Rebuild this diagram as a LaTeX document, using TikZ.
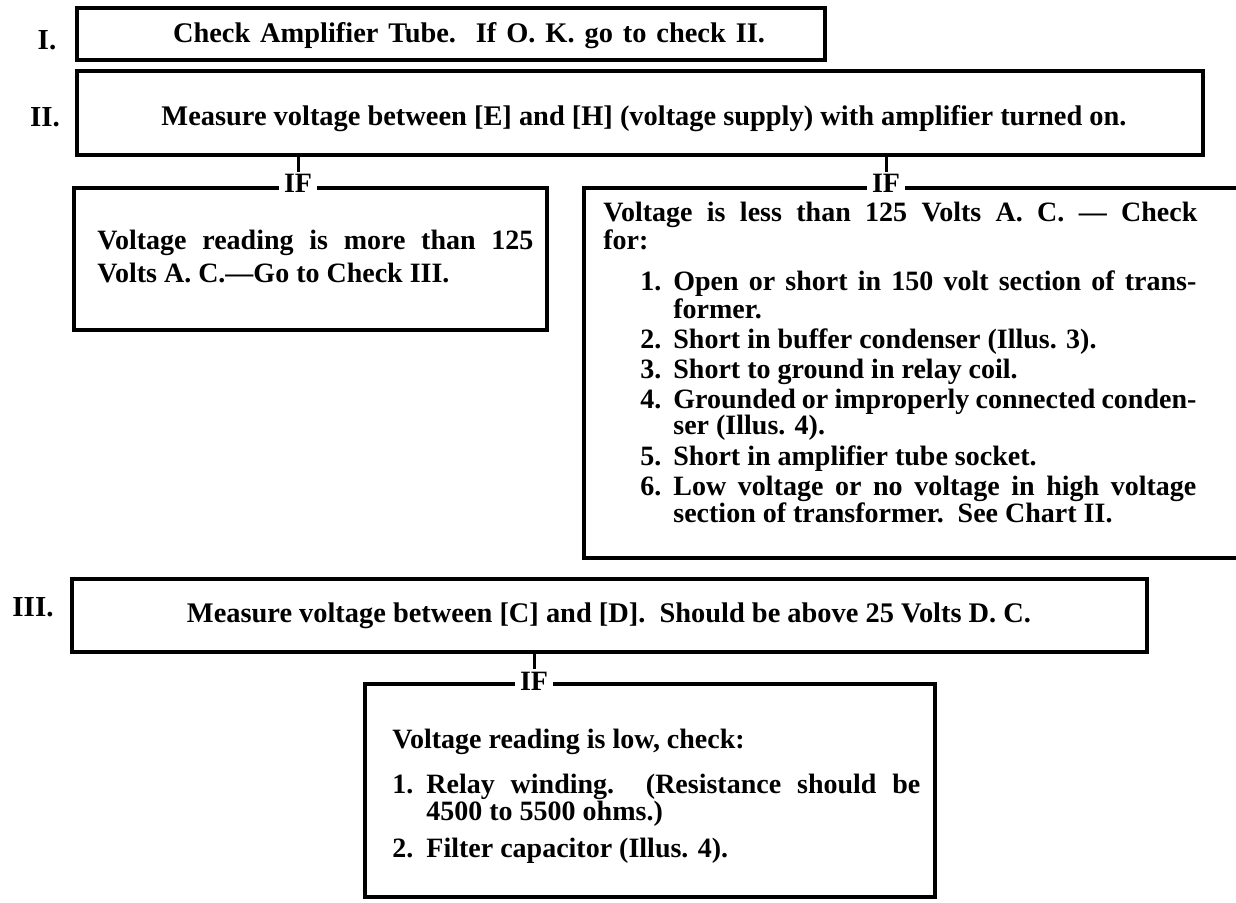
\documentclass[tikz,border=0pt]{standalone}
\usepackage{fontspec}
\setmainfont{Liberation Serif}
\begin{document}
\begin{tikzpicture}[x=0.5pt,y=-0.5pt,
  frame/.style={draw, line width=1.8pt, line join=miter},
  head/.style={font=\bfseries\fontsize{14.2}{14.5}\selectfont, inner sep=0pt},
  txt/.style={font=\bfseries\fontsize{14}{13.5}\selectfont, inner sep=0pt, align=left},
  lbl/.style={font=\bfseries\fontsize{14.5}{14.5}\selectfont, inner sep=0pt},
  iflbl/.style={font=\bfseries\fontsize{14}{14}\selectfont, fill=white, inner xsep=2.5pt, inner ysep=1pt},
  conn/.style={line width=1.5pt}]
\useasboundingbox (0,0) rectangle (1236,903);

% ---------- I ----------
\node[lbl, anchor=base] (l1) at (47,50) {I.};
\node[frame, minimum width=374pt, minimum height=26pt] (b1) at (451,34) {};
\node[head, anchor=base] (t1) at (469,43) {\makebox[296pt][s]{Check Amplifier Tube.\ \ If O. K. go to check II.}};

% ---------- II ----------
\node[lbl, anchor=base] (l2) at (45,127) {II.};
\node[frame, minimum width=563pt, minimum height=42pt] (b2) at (640,113) {};
\node[head, anchor=base] (t2) at (644,126) {Measure voltage between [E] and [H] (voltage supply) with amplifier turned on.};

% ---------- left IF box ----------
\coordinate (la) at (74,188);
\coordinate (lb) at (547,330);
\draw[frame] (la) rectangle (lb);
\node[iflbl, anchor=base] (if1) at (298,193) {IF};
\draw[conn] (b2.south -| if1) -- (if1.north);
\node[txt, anchor=base west] (t3) at (97,283)
  {\makebox[218pt][s]{Voltage reading is more than 125}\\[3pt]
   Volts A. C.---Go to Check III.};

% ---------- right IF box ----------
\coordinate (ra) at (1238,188);
\coordinate (rb) at (584,188);
\coordinate (rc) at (584,558);
\coordinate (rd) at (1238,558);
\draw[frame] (ra) -- (rb) -- (rc) -- (rd);
\node[iflbl, anchor=base] (if2) at (886,193) {IF};
\draw[conn] (b2.south -| if2) -- (if2.north);
\node[txt, anchor=base west] (t4) at (603,522)
  {\makebox[297pt][s]{Voltage is less than 125 Volts A. C. --- Check}\\
   for:\\[7.5pt]
   \hspace*{18.5pt}\makebox[16.5pt][l]{1.}\makebox[261.5pt][s]{Open or short in 150 volt section of trans-}\\
   \hspace*{35pt}former.\\[1.5pt]
   \hspace*{18.5pt}\makebox[16.5pt][l]{2.}Short in buffer condenser (Illus. 3).\\[1.5pt]
   \hspace*{18.5pt}\makebox[16.5pt][l]{3.}Short to ground in relay coil.\\[1.5pt]
   \hspace*{18.5pt}\makebox[16.5pt][l]{4.}\makebox[261.5pt][s]{Grounded or improperly connected conden-}\\
   \hspace*{35pt}ser (Illus. 4).\\[1.5pt]
   \hspace*{18.5pt}\makebox[16.5pt][l]{5.}Short in amplifier tube socket.\\[1.5pt]
   \hspace*{18.5pt}\makebox[16.5pt][l]{6.}\makebox[261.5pt][s]{Low voltage or no voltage in high voltage}\\
   \hspace*{35pt}section of transformer.\ \ See Chart II.};

% ---------- III ----------
\node[lbl, anchor=base] (l3) at (33,616) {III.};
\node[frame, minimum width=537.5pt, minimum height=36.5pt] (b3) at (609.5,615.5) {};
\node[head, anchor=base] (t5) at (609,622) {Measure voltage between [C] and [D].\ \ Should be above 25 Volts D. C.};

% ---------- bottom IF box ----------
\coordinate (ba) at (365,684);
\coordinate (bb) at (935,897);
\draw[frame] (ba) rectangle (bb);
\node[iflbl, anchor=base] (if3) at (534,690) {IF};
\draw[conn] (b3.south -| if3) -- (if3.north);
\node[txt, anchor=base west] (t6) at (392,857)
  {Voltage reading is low, check:\\[9pt]
   \makebox[17pt][l]{1.}\makebox[247pt][s]{Relay winding.\ \ (Resistance should be}\\
   \hspace*{17pt}4500 to 5500 ohms.)\\[5pt]
   \makebox[17pt][l]{2.}Filter capacitor (Illus. 4).};
\end{tikzpicture}
\end{document}
